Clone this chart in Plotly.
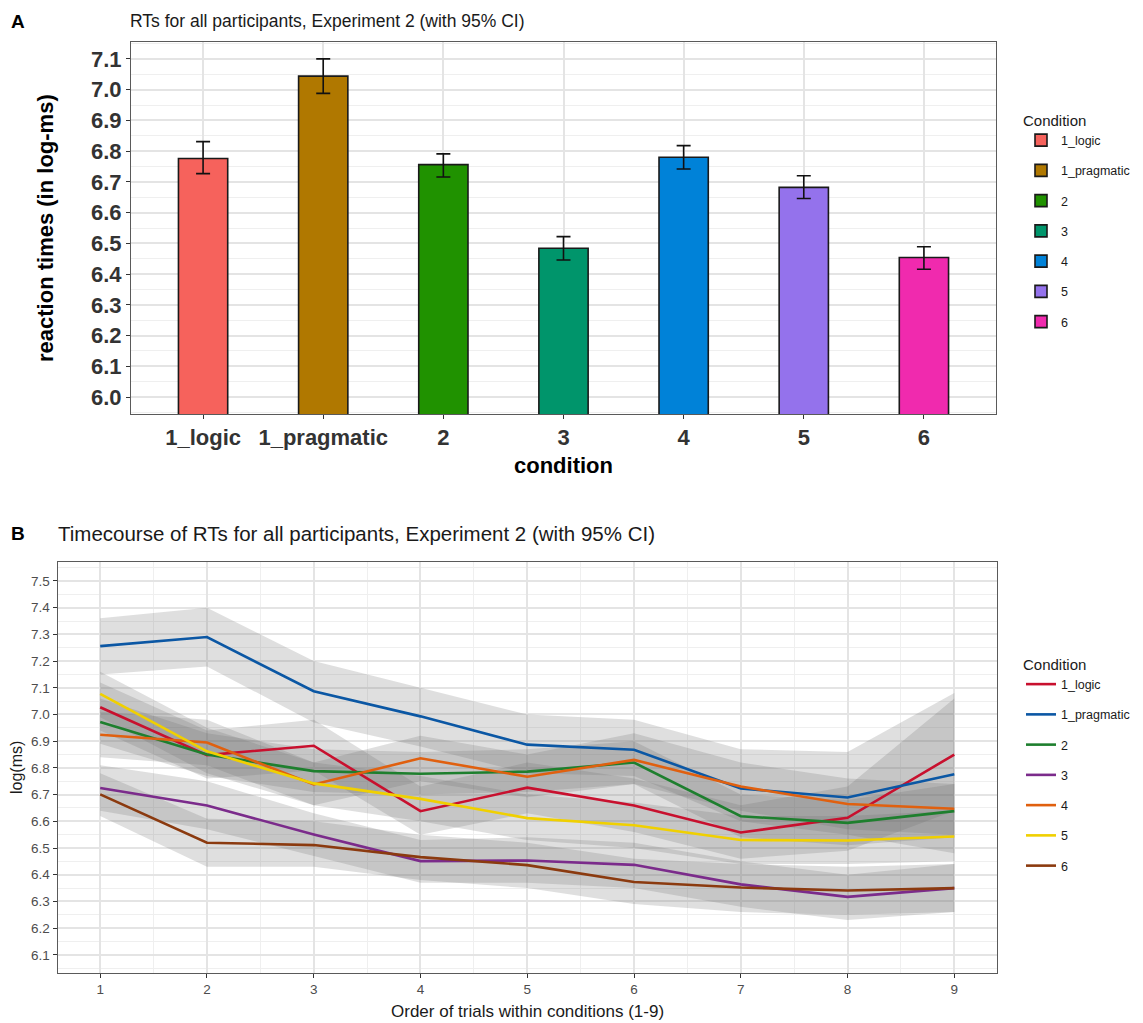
import plotly.graph_objects as go

W, H = 1143, 1023

# ---------------- Panel A data ----------------
conditions = ["1_logic", "1_pragmatic", "2", "3", "4", "5", "6"]
rt_mean = [6.776, 7.044, 6.756, 6.484, 6.780, 6.682, 6.454]
rt_ci_low = [6.727, 6.988, 6.716, 6.446, 6.742, 6.646, 6.416]
rt_ci_high = [6.831, 7.100, 6.791, 6.522, 6.818, 6.720, 6.489]
bar_colors = ["#F6625C", "#B07800", "#209200", "#00956B", "#0082D8", "#9472EC", "#F02AAE"]

# ---------------- Panel B data ----------------
trials = [1, 2, 3, 4, 5, 6, 7, 8, 9]
line_colors = ["#C8102E", "#0B57A4", "#1E7F2E", "#7B2B8B", "#E0600F", "#F0D000", "#8B3A0F"]

logic_mean = [7.027, 6.848, 6.883, 6.638, 6.726, 6.659, 6.558, 6.613, 6.850]
logic_lo = [6.94, 6.76, 6.79, 6.55, 6.63, 6.56, 6.46, 6.49, 6.64]
logic_hi = [7.12, 6.94, 6.98, 6.73, 6.82, 6.76, 6.66, 6.73, 7.06]

prag_mean = [7.256, 7.290, 7.087, 6.993, 6.887, 6.868, 6.723, 6.689, 6.776]
prag_lo = [7.15, 7.18, 6.97, 6.88, 6.78, 6.77, 6.60, 6.55, 6.48]
prag_hi = [7.36, 7.40, 7.20, 7.10, 7.00, 6.98, 6.87, 6.86, 7.08]

c2_mean = [6.972, 6.850, 6.788, 6.778, 6.786, 6.820, 6.619, 6.594, 6.638]
c2_lo = [6.89, 6.77, 6.71, 6.70, 6.71, 6.74, 6.54, 6.51, 6.54]
c2_hi = [7.06, 6.93, 6.87, 6.86, 6.87, 6.90, 6.70, 6.68, 6.74]

c3_mean = [6.725, 6.659, 6.551, 6.451, 6.453, 6.437, 6.364, 6.317, 6.350]
c3_lo = [6.64, 6.57, 6.47, 6.37, 6.37, 6.35, 6.28, 6.23, 6.26]
c3_hi = [6.81, 6.75, 6.63, 6.53, 6.54, 6.52, 6.45, 6.40, 6.44]

c4_mean = [6.924, 6.895, 6.738, 6.836, 6.767, 6.830, 6.730, 6.665, 6.647]
c4_lo = [6.84, 6.81, 6.66, 6.75, 6.69, 6.74, 6.64, 6.57, 6.55]
c4_hi = [7.01, 6.98, 6.82, 6.92, 6.85, 6.93, 6.82, 6.76, 6.74]

c5_mean = [7.077, 6.862, 6.742, 6.684, 6.612, 6.585, 6.530, 6.528, 6.543]
c5_lo = [6.99, 6.78, 6.66, 6.60, 6.53, 6.50, 6.44, 6.44, 6.45]
c5_hi = [7.16, 6.95, 6.82, 6.77, 6.70, 6.67, 6.62, 6.62, 6.64]

c6_mean = [6.701, 6.520, 6.511, 6.466, 6.436, 6.373, 6.352, 6.341, 6.350]
c6_lo = [6.62, 6.43, 6.43, 6.38, 6.35, 6.29, 6.26, 6.25, 6.26]
c6_hi = [6.78, 6.61, 6.60, 6.55, 6.52, 6.46, 6.44, 6.43, 6.44]

series_b = [
    (conditions[0], logic_mean, logic_lo, logic_hi),
    (conditions[1], prag_mean, prag_lo, prag_hi),
    (conditions[2], c2_mean, c2_lo, c2_hi),
    (conditions[3], c3_mean, c3_lo, c3_hi),
    (conditions[4], c4_mean, c4_lo, c4_hi),
    (conditions[5], c5_mean, c5_lo, c5_hi),
    (conditions[6], c6_mean, c6_lo, c6_hi),
]

FONT = "Liberation Sans, Arial, Helvetica, sans-serif"

fig = go.Figure()

# ---- Panel A bars ----
for i, c in enumerate(conditions):
    fig.add_trace(go.Bar(
        x=[c], y=[rt_mean[i]], width=0.41,
        marker=dict(color=bar_colors[i], line=dict(color="#1a1a1a", width=1.6)),
        error_y=dict(type="data", symmetric=False,
                     array=[rt_ci_high[i] - rt_mean[i]],
                     arrayminus=[rt_mean[i] - rt_ci_low[i]],
                     color="#111111", thickness=1.6, width=7),
        name=c, legend="legend", legendgroup="a" + c,
        xaxis="x", yaxis="y",
    ))

# ---- Panel B ribbons ----
for i, (name, m, lo, hi) in enumerate(series_b):
    fig.add_trace(go.Scatter(
        x=trials + trials[::-1], y=hi + lo[::-1],
        fill="toself", fillcolor="rgba(110,110,110,0.22)",
        line=dict(width=0), mode="lines", hoverinfo="skip",
        showlegend=False, xaxis="x2", yaxis="y2",
    ))

# ---- Panel B lines ----
for i, (name, m, lo, hi) in enumerate(series_b):
    fig.add_trace(go.Scatter(
        x=trials, y=m, mode="lines",
        line=dict(color=line_colors[i], width=2.6),
        name=name, legend="legend2", legendgroup="b" + name,
        xaxis="x2", yaxis="y2",
    ))


def px_x(p):
    return p / W


def px_y(p):
    return 1 - p / H


grid_major = "#e4e4e4"
grid_minor = "#efefef"
border = "#5a5a5a"

fig.update_layout(
    width=W, height=H,
    margin=dict(l=0, r=0, t=0, b=0),
    paper_bgcolor="white", plot_bgcolor="white",
    barmode="overlay",
    font=dict(family=FONT, color="#333333"),
    xaxis=dict(
        domain=[px_x(131), px_x(996)], anchor="y",
        type="category", range=[-0.6, 6.6],
        showgrid=True, gridcolor=grid_major, gridwidth=1.5,
        showline=True, mirror=True, linecolor=border, linewidth=1,
        ticks="outside", ticklen=4, tickcolor="#333333",
        tickfont=dict(size=22, color="#333333", family=FONT, weight="bold"),
        zeroline=False,
    ),
    yaxis=dict(
        domain=[px_y(414), px_y(42)], anchor="x",
        range=[5.945, 7.155], dtick=0.1, tick0=6.0, tickformat=".1f",
        showgrid=True, gridcolor=grid_major, gridwidth=1.5,
        minor=dict(dtick=0.05, tick0=6.0, showgrid=True, gridcolor=grid_minor, gridwidth=1),
        showline=True, mirror=True, linecolor=border, linewidth=1,
        ticks="outside", ticklen=4, tickcolor="#333333",
        tickfont=dict(size=22, color="#333333", family=FONT, weight="bold"),
        zeroline=False,
    ),
    xaxis2=dict(
        domain=[px_x(57.5), px_x(997)], anchor="y2",
        range=[0.6, 9.4], dtick=1, tick0=1,
        showgrid=True, gridcolor=grid_major, gridwidth=1.5,
        minor=dict(dtick=0.5, tick0=0.5, showgrid=True, gridcolor=grid_minor, gridwidth=1),
        showline=True, mirror=True, linecolor=border, linewidth=1,
        ticks="outside", ticklen=4, tickcolor="#333333",
        tickfont=dict(size=13.5, color="#4d4d4d", family=FONT),
        zeroline=False,
    ),
    yaxis2=dict(
        domain=[px_y(973), px_y(562)], anchor="x2",
        range=[6.032, 7.571], dtick=0.1, tick0=6.1, tickformat=".1f",
        showgrid=True, gridcolor=grid_major, gridwidth=1.5,
        minor=dict(dtick=0.05, tick0=6.05, showgrid=True, gridcolor=grid_minor, gridwidth=1),
        showline=True, mirror=True, linecolor=border, linewidth=1,
        ticks="outside", ticklen=4, tickcolor="#333333",
        tickfont=dict(size=13.5, color="#4d4d4d", family=FONT),
        zeroline=False,
    ),
    legend=dict(
        x=px_x(1021), y=px_y(106), xanchor="left", yanchor="top",
        title=dict(text="Condition", font=dict(size=15, color="#1a1a1a", family=FONT)),
        font=dict(size=12.5, color="#1a1a1a", family=FONT),
        tracegroupgap=11, bgcolor="rgba(0,0,0,0)",
    ),
    legend2=dict(
        x=px_x(1021), y=px_y(650), xanchor="left", yanchor="top",
        title=dict(text="Condition", font=dict(size=15, color="#1a1a1a", family=FONT)),
        font=dict(size=12.5, color="#1a1a1a", family=FONT),
        tracegroupgap=11, bgcolor="rgba(0,0,0,0)", itemwidth=30,
    ),
)

ann = []


def add_text(text, x, y, size, bold=False, anchor="left", angle=0, color="#1a1a1a"):
    ann.append(dict(
        text=("<b>%s</b>" % text) if bold else text,
        x=px_x(x), y=px_y(y), xref="paper", yref="paper",
        xanchor=anchor, yanchor="middle", textangle=angle, showarrow=False,
        font=dict(size=size, color=color, family=FONT),
    ))


add_text("A", 9, 22, 19, bold=True, color="black")
add_text("RTs for all participants, Experiment 2 (with 95% CI)", 128, 21, 17.5)
add_text("reaction times (in log-ms)", 45, 228, 22, bold=True, anchor="center", angle=-90, color="black")
add_text("condition", 563, 465, 22, bold=True, anchor="center", color="black")

add_text("B", 9, 533, 19, bold=True, color="black")
add_text("Timecourse of RTs for all participants, Experiment 2 (with 95% CI)", 56, 533, 20.5)
add_text("log(ms)", 16, 768, 16, anchor="center", angle=-90)
add_text("Order of trials within conditions (1-9)", 527, 1011, 17, anchor="center")

fig.update_layout(annotations=ann)

fig.write_html(
    "out.html",
    config={"displayModeBar": False},
    post_script="document.body.style.margin='0px';document.body.style.overflow='hidden';",
)
